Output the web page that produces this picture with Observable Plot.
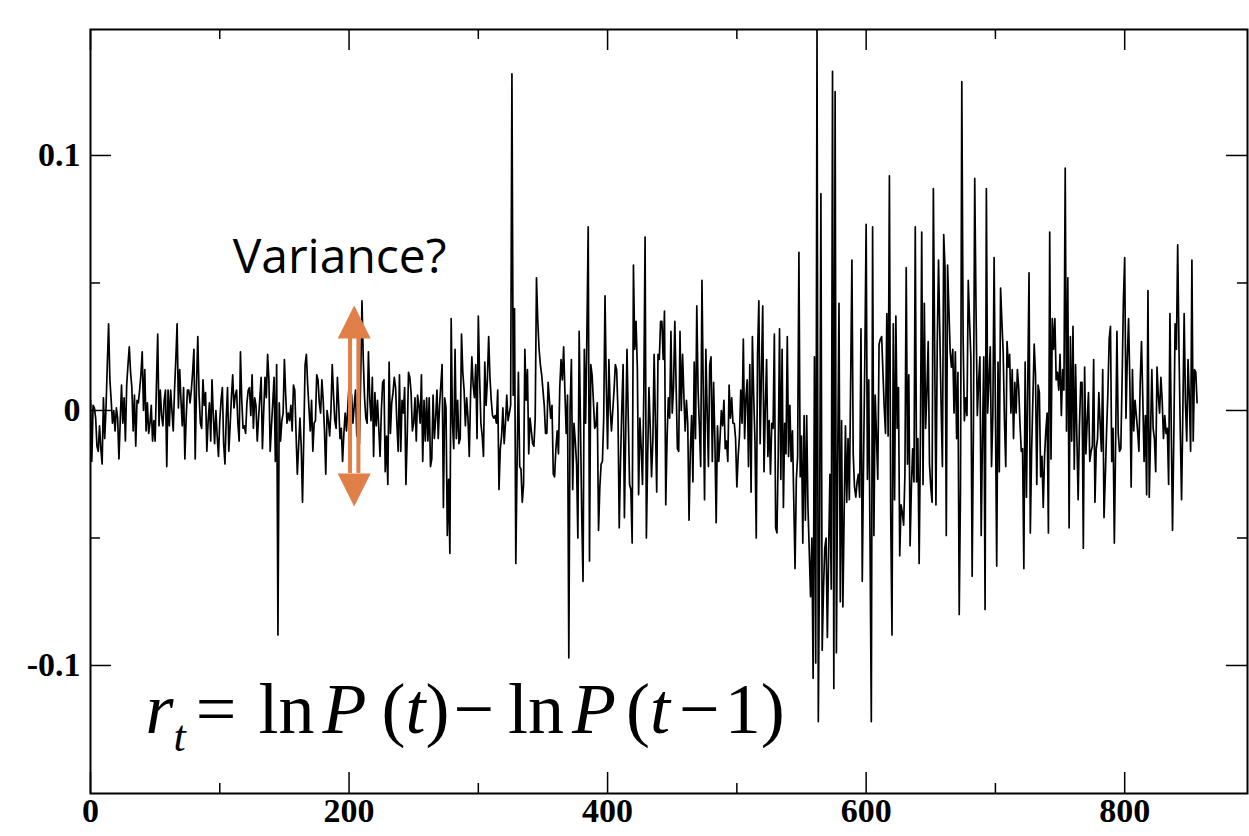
<!DOCTYPE html>
<html><head><meta charset="utf-8">
<script src="https://cdn.jsdelivr.net/npm/d3@7"></script>
<script src="https://cdn.jsdelivr.net/npm/@observablehq/plot@0.6"></script>
<style>
html,body{margin:0;padding:0;background:#fff;}
#chart{width:1249px;height:836px;overflow:hidden;}
</style></head><body><div id="chart"></div>
<script>
// Log returns r_t, in thousandths (×1000), t = 0 … 856
const segA = [4,-20,2,1,-3,-14,-16,-6,-15,-21,5,-11,1,18,34,12,4,-5,0,-8,1,-3,-19,-4,10,-5,5,-12,10,18,25,15,9,-8,6,-14,4,3,8,14,23,0,16,-8,3,-9,-5,2,-12,-4,-12,10,30,-6,8,-2,-6,4,8,-22,8,-6,8,0,-8,8,20,34,1,16,4,-6,9,-19,-3,8,8,3,8,15,24,-19,10,29,6,-5];
const segB = [-7,12,2,7,-16,-4,3,-12,12,-2,-13,0,-10,-18,-4,4,9,-13,-21,-3,9,-16,-6,5,14,1,6,8,-5,-12,23,4,-7,-6,-9,3,8,9,-2,14,-7,5,2,-12,-3,5,13,-15,0,13,5,22,12,-16,-6,3,13,-20,18,-88,3,-12,-4,-1,20,6,-5,-1,-4,2,-8,10,8,-9,-25,-14,-3,-14,-36,-10,18,22,10,1,-8,4,-16,-5,-4];
const segC = [14,12,3,-1,12,4,-8,-25,0,-4,-10,0,18,6,-4,-7,13,2,-11,-7,-20,-9,-1,-8,1,10,8,6,-5,2,8,-10,0,-13,13,43,20,5,-3,-5,23,5,-4,13,-18,7,-6,4,-7,-18,0,11,12,-24,-10,-29,19,-9,3,7,13,9,-5,-16,14,-16,4,-1,9,-29,-10,15,13,7,-8,-5,5,-12,6,2,-5,14,-20,4,-12,5,-12,5,-22];
const segD = [-19,6,-11,-3,8,-11,2,10,18,-38,5,1,-49,-27,-56,36,-5,-15,24,-11,4,-13,-11,30,15,8,-6,5,-3,-18,6,21,10,5,18,-11,37,13,-5,-10,-18,19,2,12,29,13,4,-2,-3,-2,-5,8,-31,-15,-10,1,-13,-5,6,-4,-1,2,132,6,40,-60,-20,15,-22,-23,-36,-29,24,4,16,-17,-3,-8,-13,-14,-3,52,35,24,18,14,8,2,-9];
const segE = [-9,11,4,-3,2,-25,-26,-15,-8,-17,9,20,12,25,7,-9,6,-97,1,20,-31,-5,-12,-21,-50,31,-5,-41,-67,24,-5,30,72,-59,18,14,4,-7,-6,3,-47,-30,-21,-20,-3,45,10,-15,20,1,-8,0,8,18,16,0,-46,-20,1,18,-42,-9,24,-3,-29,-31,-52,57,24,35,17,-33,-3,-15,-29,6,68,-50,-18,9,-7,-26,-12,22,-5,-32,22,20,35];
const segF = [35,20,39,-37,-11,5,-3,31,-1,9,35,10,-15,-16,31,0,22,6,-8,4,-5,-43,-16,-2,-28,19,-11,41,8,-6,-22,51,8,-35,24,0,-22,18,21,-20,11,-12,-44,-6,-20,-11,0,-6,4,-15,-12,-20,10,-3,5,-5,-5,-11,-30,-18,-10,8,-5,28,-11,5,12,-22,18,-32,29,6,-12,-50,22,43,-13,15,41,-24,1,20,-18,-4,-25,-5,-7,30,-46];
const segG = [-48,-17,32,-27,24,-38,-5,-17,29,-18,2,-20,-8,-35,-62,-27,-18,62,-26,-10,-52,-2,-43,-2,-38,-55,-73,-50,-105,21,-99,150,-122,-52,85,-94,-70,-54,-50,-89,-55,-25,-70,133,-109,125,-95,-20,42,-75,-4,-77,-40,-6,-36,-11,-35,10,59,-17,-30,-34,-28,-25,-34,32,-67,-20,21,73,-27,12,-50,-122,72,-49,6,-10,-27,26,28,29,15,1,-9,38,-10,92,-40];
const segH = [-88,34,-35,37,-7,9,-57,-37,-40,-45,-25,56,-21,14,-53,-30,-15,-28,72,-28,-11,-60,-10,70,-29,42,-7,7,27,-21,-30,-36,87,24,-37,26,59,30,2,-22,69,56,-49,57,40,23,17,24,-1,23,-11,15,-80,-30,129,29,-4,5,-2,51,35,21,-65,-6,91,40,-2,11,21,-49,-10,21,-78,87,-1,12,25,-22,-2,60,0,-61,19,-24,48,35,23,-4,-22];
const segI = [27,17,22,-1,16,-11,11,-1,16,9,-5,-16,-15,-62,19,-34,9,54,-48,-16,5,26,14,-29,10,7,-26,-18,-38,-18,-8,-1,-48,70,-19,36,24,36,12,15,8,22,-2,16,8,95,-8,52,-46,29,-12,33,-23,18,-10,-35,-6,11,11,-54,17,-17,-4,7,-20,-16,-14,20,-36,-15,-11,7,-5,-16,16,-42,-26,-8,7,28,33,-20,-7,-52,-12,31,-9,-16];
const segJ = [-15,12,43,60,-3,20,36,11,-30,16,-8,4,-2,-8,-16,11,27,5,-20,-2,-33,47,-34,-10,16,-7,-11,-24,17,6,-1,13,4,-11,-2,-9,-7,-29,38,-6,-47,-10,34,24,65,24,-8,-35,0,38,3,-12,20,5,-16,59,-12,16,15,3];

const xTicksMajor = [0, 200, 400, 600, 800];
const xTicksMinor = [100, 300, 500, 700];
const yTicksMajor = [-0.1, 0, 0.1];
const yTicksMinor = [-0.05, 0.05];
const annotationText = ["Variance?"];

const returnsMilli = [].concat(segA, segB, segC, segD, segE, segF, segG, segH, segI, segJ);
const series = returnsMilli.map((v, t) => ({t, r: v / 1000}));

const W = 1249, H = 836, mL = 90, mR = 2, mT = 29, mB = 43;
const innerW = W - mL - mR, innerH = H - mT - mB;
const orange = "#e07f47";
const serif = "'Liberation Serif', 'Times New Roman', serif";

const triUp = {draw(ctx, size) { const r = Math.sqrt(size / Math.PI); ctx.moveTo(0, -r); ctx.lineTo(r, r); ctx.lineTo(-r, r); ctx.closePath(); }};
const triDown = {draw(ctx, size) { const r = Math.sqrt(size / Math.PI); ctx.moveTo(0, r); ctx.lineTo(r, -r); ctx.lineTo(-r, -r); ctx.closePath(); }};

const arrowT = 204;
const tickStyle = {stroke: "black", strokeWidth: 1.5};

const plot = Plot.plot({
  width: W, height: H,
  marginLeft: mL, marginRight: mR, marginTop: mT, marginBottom: mB,
  style: {fontFamily: serif, background: "white", overflow: "visible", color: "black"},
  x: {domain: [0, 895]},
  y: {domain: [-0.1502, 0.1494]},
  marks: [
    Plot.line(series, {x: "t", y: "r", stroke: "black", strokeWidth: 1.7, clip: true}),
    Plot.ruleX([arrowT], {y1: 0.0282, y2: -0.0247, dx: -4.2, stroke: orange, strokeWidth: 4}),
    Plot.ruleX([arrowT], {y1: 0.0282, y2: -0.0247, dx: 4.2, stroke: orange, strokeWidth: 4}),
    Plot.dot([arrowT], {x: d => d, y: 0.0347, r: 16.5, symbol: triUp, fill: orange, stroke: null}),
    Plot.dot([arrowT], {x: d => d, y: -0.0312, r: 16.5, symbol: triDown, fill: orange, stroke: null}),
    Plot.text(annotationText, {x: 110, y: 0.0599, text: d => d, textAnchor: "start", fontSize: 48, fontFamily: "'Open Sans', sans-serif", fill: "black"}),
    Plot.frame({stroke: "black", strokeWidth: 2}),
    Plot.tickX(xTicksMajor, {x: d => d, insetTop: innerH - 21, ...tickStyle}),
    Plot.tickX(xTicksMajor, {x: d => d, insetBottom: innerH - 21, ...tickStyle}),
    Plot.tickX(xTicksMinor, {x: d => d, insetTop: innerH - 10, ...tickStyle}),
    Plot.tickX(xTicksMinor, {x: d => d, insetBottom: innerH - 10, ...tickStyle}),
    Plot.tickY(yTicksMajor, {y: d => d, insetRight: innerW - 21, ...tickStyle}),
    Plot.tickY(yTicksMajor, {y: d => d, insetLeft: innerW - 21, ...tickStyle}),
    Plot.tickY(yTicksMinor, {y: d => d, insetRight: innerW - 10, ...tickStyle}),
    Plot.tickY(yTicksMinor, {y: d => d, insetLeft: innerW - 10, ...tickStyle}),
    Plot.axisX(xTicksMajor, {anchor: "bottom", tickSize: 0, tickPadding: 4, fontSize: 34, fontWeight: "bold", fontFamily: serif, tickFormat: d => String(d), label: null}),
    Plot.axisY(yTicksMajor, {anchor: "left", tickSize: 0, tickPadding: 10, fontSize: 34, fontWeight: "bold", fontFamily: serif, tickFormat: d => String(d), label: null})
  ]
});

// formula annotation: one text element with flowing tspans, anchored through the plot's scales
const sx = plot.scale("x"), sy = plot.scale("y");
const fx = sx.apply(43), fy = sy.apply(-0.1267);
const pieces = [
  {gap: 0, s: "r", it: true},
  {gap: 0, s: "t", it: true, sub: true},
  {gap: 10, s: "="},
  {gap: 22, s: "ln"},
  {gap: 8, s: "P", it: true},
  {gap: 15, s: "("},
  {gap: 0, s: "t", it: true},
  {gap: 0, s: ")"},
  {gap: 4, s: "\u2212"},
  {gap: 14, s: "ln"},
  {gap: 8, s: "P", it: true},
  {gap: 10, s: "("},
  {gap: 0, s: "t", it: true},
  {gap: 9, s: "\u2212"},
  {gap: 5, s: "1"},
  {gap: 0, s: ")"}
];
const formula = d3.select(plot).append("text")
  .attr("font-family", serif).attr("fill", "black").attr("text-anchor", "start")
  .attr("font-size", 72).attr("x", fx).attr("y", fy);
let wasSub = false;
for (const p of pieces) {
  const dy = p.sub && !wasSub ? 18 : (!p.sub && wasSub ? -18 : 0);
  formula.append("tspan")
    .attr("dx", p.gap)
    .attr("dy", dy)
    .attr("font-size", p.sub ? 44 : 72)
    .attr("font-style", p.it ? "italic" : "normal")
    .text(p.s);
  wasSub = !!p.sub;
}

document.getElementById("chart").appendChild(plot);
</script>
</body></html>
